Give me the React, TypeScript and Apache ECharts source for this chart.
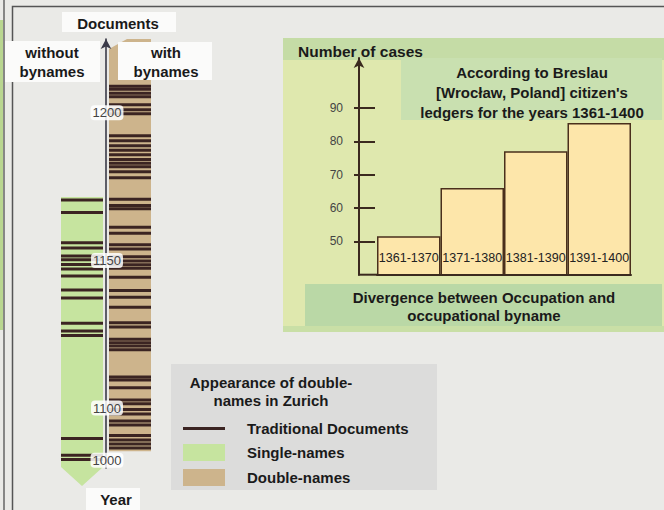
import React, { useEffect, useRef } from 'react';
import * as echarts from 'echarts';

const FONT = '"Liberation Sans", Arial, Helvetica, sans-serif';

// ---------- Zurich: documents per year ----------
const stripCategories = ['without bynames', 'with bynames'];
const singleNameSpan = [987, 1171.5];
const doubleNameSpan = [1017, 1225];
const singleNameDocs = [
  1170.5, 1166.2, 1156, 1154.2, 1151.5, 1150.2, 1148.6, 1147.1, 1144.7, 1140, 1137.3,
  1128.7, 1126.1, 1124.6, 1041.7, 1009.6, 1001.3,
];
const doubleNameDocs = [
  1209, 1208, 1206.6, 1205.4, 1202.7, 1201, 1199.7, 1192.2, 1190.5, 1188.8, 1187.3,
  1185.8, 1184.2, 1182.9, 1181.7, 1180, 1178, 1170.7, 1168.6, 1167.5, 1161.2, 1159.2,
  1155.3, 1153.9, 1151.2, 1149.8, 1148.5, 1147.3, 1144.3, 1139.8, 1137.5, 1134.1,
  1128.9, 1127.4, 1123.3, 1122.1, 1121, 1119.7, 1110.5, 1109.5, 1106.9, 1102.7, 1101.4,
  1097.1, 1088.5, 1075, 1067.3, 1047.1, 1038.5, 1030.8, 1023.1,
];
const upperYears = [1100, 1225];
const lowerYears = [985, 1100];
const upperYearTicks = [1150, 1200];
const lowerYearTicks = [1000, 1100];

// ---------- Breslau: divergence cases ----------
const periods = ['1361-1370', '1371-1380', '1381-1390', '1391-1400'];
const cases = [51.5, 66, 77, 85.5];
const caseTicks = [50, 60, 70, 80, 90];
const caseRange = [40, 105];

const GREEN = '#c6e49f';
const TAN = '#cdb48c';
const INK = '#3b2422';

function stripSeries(name: string, color: string, cat: number, span: number[], grid: number, range: number[], decor: string) {
  return {
    type: 'custom',
    name,
    xAxisIndex: grid,
    yAxisIndex: grid,
    itemStyle: { color },
    z: 1,
    data: [[cat, Math.max(span[0], range[0]), Math.min(span[1], range[1])]],
    renderItem: (params: any, api: any) => {
      const lo = api.coord([api.value(0), api.value(1)]);
      const hi = api.coord([api.value(0), api.value(2)]);
      const w = api.size([1, 0])[0] * 0.875;
      const x0 = lo[0] - w / 2;
      const x1 = lo[0] + w / 2;
      let pts;
      if (decor === 'arrowBottom') {
        pts = [[x0, hi[1]], [x1, hi[1]], [x1, lo[1]], [lo[0], lo[1] + 19], [x0, lo[1]]];
      } else if (decor === 'slantTop') {
        pts = [[x0, hi[1] + 10], [x0 + 18, hi[1]], [x1, hi[1]], [x1, lo[1]], [x0, lo[1]]];
      } else {
        pts = [[x0, hi[1]], [x1, hi[1]], [x1, lo[1]], [x0, lo[1]]];
      }
      return { type: 'polygon', shape: { points: pts }, style: { fill: color } };
    },
  };
}

function docSeries(grid: number, keep: (y: number) => boolean) {
  return {
    type: 'scatter',
    name: 'Traditional Documents',
    xAxisIndex: grid,
    yAxisIndex: grid,
    symbol: 'rect',
    symbolSize: [42, 3],
    itemStyle: { color: INK, opacity: 1 },
    z: 3,
    data: [
      ...singleNameDocs.filter(keep).map((y) => [0, y]),
      ...doubleNameDocs.filter(keep).map((y) => [1, y]),
    ],
  };
}

const yearLabel = (values: number[]) => ({
  customValues: values,
  formatter: (v: number) => String(v),
  align: 'center',
  margin: -1,
  fontSize: 13,
  fontFamily: FONT,
  color: '#444',
  backgroundColor: 'rgba(255,255,255,0.85)',
  borderRadius: 4,
  padding: [1, 2],
  showMinLabel: true,
  showMaxLabel: true,
});

function boldText(text: string, x: number, y: number, align = 'center', size = 15, lh = 19) {
  return {
    type: 'text',
    x,
    y,
    z: 30,
    style: {
      text,
      fill: '#1a1a1a',
      fontFamily: FONT,
      fontSize: size,
      fontWeight: 'bold',
      align,
      verticalAlign: 'middle',
      lineHeight: lh,
    },
  };
}

function box(x: number, y: number, w: number, h: number, fill: string, z = 0) {
  return { type: 'rect', z, shape: { x, y, width: w, height: h }, style: { fill } };
}

export default function App() {
  const ref = useRef<HTMLDivElement>(null);
  useEffect(() => {
    if (!ref.current) return;
    const chart = echarts.init(ref.current, null, { renderer: 'svg' });
    const axisInk = '#3b2a1f';
    const zAxisInk = '#3a3a48';
    chart.setOption({
      animation: false,
      backgroundColor: '#eaeae7',
      grid: [
        { left: 58, width: 96, top: 39, height: 369 },
        { left: 58, width: 96, top: 408, height: 60 },
        { left: 377, width: 254, top: 58, height: 216.7 },
      ],
      xAxis: [
        { gridIndex: 0, type: 'category', data: stripCategories, show: false },
        { gridIndex: 1, type: 'category', data: stripCategories, show: false },
        {
          gridIndex: 2,
          type: 'category',
          data: periods,
          z: 5,
          axisLine: { show: true, lineStyle: { color: axisInk, width: 2 } },
          axisTick: { show: false },
          axisLabel: { show: false },
        },
      ],
      yAxis: [
        {
          gridIndex: 0,
          type: 'value',
          position: 'left',
          min: upperYears[0],
          max: upperYears[1],
          offset: -48,
          z: 10,
          splitLine: { show: false },
          axisTick: { show: false },
          axisLine: {
            show: true,
            symbol: ['none', 'arrow'],
            symbolSize: [8, 10],
            lineStyle: { color: zAxisInk, width: 1.6 },
          },
          axisLabel: yearLabel(upperYearTicks),
        },
        {
          gridIndex: 1,
          type: 'value',
          position: 'left',
          min: lowerYears[0],
          max: lowerYears[1],
          offset: -48,
          z: 10,
          splitLine: { show: false },
          axisTick: { show: false },
          axisLine: { show: true, lineStyle: { color: zAxisInk, width: 1.6 } },
          axisLabel: yearLabel(lowerYearTicks),
        },
        {
          gridIndex: 2,
          type: 'value',
          position: 'left',
          min: caseRange[0],
          max: caseRange[1],
          offset: 18,
          z: 5,
          splitLine: { show: false },
          axisLine: {
            show: true,
            symbol: ['none', 'arrow'],
            symbolSize: [8, 10],
            lineStyle: { color: axisInk, width: 2 },
          },
          axisTick: {
            show: true,
            inside: true,
            length: 16,
            customValues: caseTicks,
            lineStyle: { color: axisInk, width: 2 },
          },
          axisLabel: {
            customValues: caseTicks,
            margin: 16,
            fontSize: 12,
            fontFamily: FONT,
            color: '#444',
          },
        },
        {
          gridIndex: 2,
          type: 'value',
          position: 'left',
          min: caseRange[0],
          max: caseRange[1],
          offset: 18,
          z: 5,
          splitLine: { show: false },
          axisLine: { show: false },
          axisTick: {
            show: true,
            length: 5,
            customValues: caseTicks,
            lineStyle: { color: axisInk, width: 2 },
          },
          axisLabel: { show: false },
        },
      ],
      legend: {
        orient: 'vertical',
        left: 178,
        top: 416,
        itemWidth: 42,
        itemHeight: 17,
        itemGap: 8,
        selectedMode: false,
        textStyle: {
          fontFamily: FONT,
          fontSize: 15,
          fontWeight: 'bold',
          color: '#1a1a1a',
          padding: [0, 0, 0, 17],
        },
        data: [
          { name: 'Traditional Documents', icon: 'path://M0 0H42V3H0Z' },
          { name: 'Single-names', icon: 'rect' },
          { name: 'Double-names', icon: 'rect' },
        ],
      },
      series: [
        stripSeries('Single-names', GREEN, 0, singleNameSpan, 0, upperYears, 'plain'),
        stripSeries('Double-names', TAN, 1, doubleNameSpan, 0, upperYears, 'slantTop'),
        stripSeries('Single-names', GREEN, 0, singleNameSpan, 1, lowerYears, 'arrowBottom'),
        stripSeries('Double-names', TAN, 1, doubleNameSpan, 1, lowerYears, 'plain'),
        docSeries(0, (y) => y >= upperYears[0]),
        docSeries(1, (y) => y < upperYears[0]),
        {
          type: 'bar',
          xAxisIndex: 2,
          yAxisIndex: 2,
          data: cases,
          barCategoryGap: 0,
          itemStyle: { color: '#fde6aa', borderColor: '#4a2f1c', borderWidth: 1.5 },
          label: {
            show: true,
            position: 'insideBottom',
            distance: 11,
            formatter: '{b}',
            fontSize: 12.5,
            fontFamily: FONT,
            color: '#222',
          },
        },
      ],
      graphic: [
        // page frame
        { type: 'rect', z: 0, shape: { x: 0, y: 20, width: 3, height: 310 }, style: { fill: '#b9d690' } },
        { type: 'line', z: 0, shape: { x1: 4, y1: 0, x2: 4, y2: 510 }, style: { stroke: '#666', lineWidth: 1.5 } },
        { type: 'rect', z: 0, shape: { x: 12.5, y: 6.5, width: 660, height: 520 }, style: { fill: 'none', stroke: '#555', lineWidth: 1.5 } },
        // Breslau panel
        box(283, 38, 381, 294, '#dfe8ae'),
        box(283, 38, 381, 22, '#c5dca6'),
        box(283, 326, 381, 6, '#c9dfa6'),
        box(401, 58, 261, 62, '#c9e0b0'),
        box(305, 284, 357, 42, '#bad8a6'),
        { type: 'line', z: 5, shape: { x1: 358, y1: 274.7, x2: 378, y2: 274.7 }, style: { stroke: axisInk, lineWidth: 2 } },
        boldText('Number of cases', 298, 51, 'left', 15.5),
        boldText('According to Breslau\n[Wrocław, Poland] citizen\'s\nledgers for the years 1361-1400', 532, 92, 'center', 15, 20),
        boldText('Divergence between Occupation and\noccupational byname', 484, 306, 'center', 15, 18),
        // Zurich labels
        box(62, 12, 114, 20, '#fbfbfa', 20),
        boldText('Documents', 118, 23),
        box(5, 41, 95, 41, '#fbfbfa', 20),
        boldText('without\nbynames', 52, 61.5),
        box(118, 42, 94, 38, '#fbfbfa', 20),
        boldText('with\nbynames', 166, 61.5),
        box(86, 488, 54, 22, '#fbfbfa', 20),
        boldText('Year', 116, 499),
        // legend box
        box(171, 364, 266, 126, '#dcdcdb'),
        boldText('Appearance of double-\nnames in Zurich', 271, 391, 'center', 15, 18),
      ],
    });
    return () => chart.dispose();
  }, []);
  return (
    <div
      ref={ref}
      style={{ position: 'absolute', left: 0, top: 0, width: 664, height: 510 }}
    />
  );
}
